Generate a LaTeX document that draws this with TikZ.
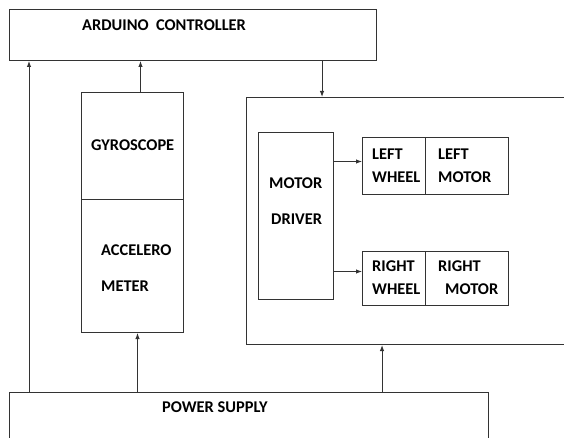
\documentclass[tikz,border=0pt]{standalone}
\usepackage{fontspec}
\setmainfont{Carlito}
\usetikzlibrary{arrows.meta}

\tikzset{
  blk/.style={draw=black!80, line width=1pt, anchor=north west, inner sep=0pt},
  lbl/.style={anchor=west, inner sep=0pt, align=left, font=\fontsize{16.4}{18}\selectfont\bfseries},
  arr/.style={draw=black!80, line width=1pt, -{Latex[length=6pt,width=4.5pt]}},
}

\begin{document}
\begin{tikzpicture}[x=1pt,y=-1pt]
        \useasboundingbox (0,0) rectangle (564,438);
        % blocks
        \node[blk, minimum width=367pt, minimum height=51pt] (ard) at (9,9) {};
        \node[blk, minimum width=102pt, minimum height=107pt] (gyro) at (81,92) {};
        \node[blk, minimum width=102pt, minimum height=133pt] (acc) at (81,199) {};
        \node[blk, minimum width=330pt, minimum height=247pt] (unit) at (246,97) {};
        \node[blk, minimum width=75pt, minimum height=167pt] (drv) at (258,132) {};
        \node[blk, minimum width=63pt, minimum height=57pt] (lwh) at (362,137) {};
        \node[blk, minimum width=83pt, minimum height=57pt] (lmot) at (425,137) {};
        \node[blk, minimum width=63pt, minimum height=54pt] (rwh) at (362,251) {};
        \node[blk, minimum width=83pt, minimum height=54pt] (rmot) at (425,251) {};
        \node[blk, minimum width=479pt, minimum height=60pt] (ps) at (9,392) {};
        % labels
        \node[lbl] (ardt) at (82,25) {ARDUINO\ \ CONTROLLER};
        \node[lbl] (gyrot) at (91,145) {GYROSCOPE};
        \node[lbl] (acct) at (101,268) {ACCELERO\\[18pt]METER};
        \node[lbl] (drvt) at (269,201) {MOTOR\\[18pt]\hspace*{2pt}DRIVER};
        \node[lbl] (lwht) at (372,165.5) {LEFT\\[5pt]WHEEL};
        \node[lbl] (lmott) at (438,165.5) {LEFT\\[5pt]MOTOR};
        \node[lbl] (rwht) at (372,277.5) {RIGHT\\[5pt]WHEEL};
        \node[lbl] (rmott) at (438,277.5) {RIGHT\\[5pt]\hspace*{7pt}MOTOR};
        \node[lbl] (pst) at (162,407) {POWER SUPPLY};
        % connectors
        \draw[arr] ([xshift=20pt]ps.north west) -- ([xshift=20pt]ard.south west);
        \draw[arr] ([xshift=8pt]gyro.north) -- ([xshift=8pt]gyro.north |- ard.south);
        \draw[arr] ([xshift=5pt]acc.south |- ps.north) -- ([xshift=5pt]acc.south);
        \draw[arr] ([xshift=76pt]unit.north west |- ard.south) -- ([xshift=76pt]unit.north west);
        \draw[arr] ([xshift=136pt]unit.south west |- ps.north) -- ([xshift=136pt]unit.south west);
        \draw[arr] ([yshift=4.5pt]drv.east |- lwh.west) -- ([yshift=4.5pt]lwh.west);
        \draw[arr] ([yshift=7pt]drv.east |- rwh.west) -- ([yshift=7pt]rwh.west);
\end{tikzpicture}
\end{document}
